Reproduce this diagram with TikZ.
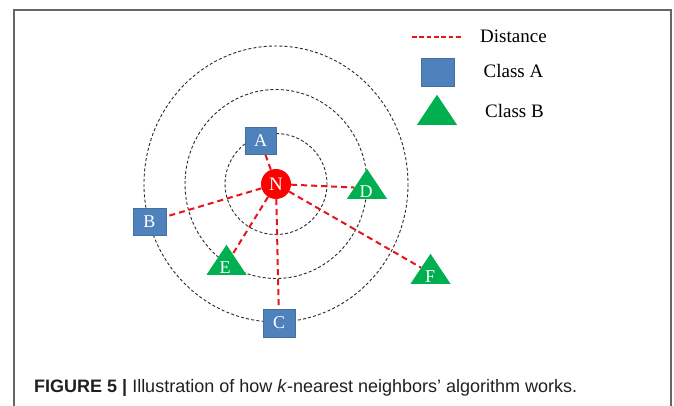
\documentclass[tikz,border=0pt]{standalone}
\usepackage{fontspec}
\setmainfont{Liberation Serif}
\newfontfamily\capfont{Liberation Sans}
\usetikzlibrary{shapes.geometric}
\definecolor{clsA}{HTML}{4F81BD}
\definecolor{clsAb}{HTML}{41719C}
\definecolor{clsB}{HTML}{00B050}
\definecolor{distred}{HTML}{E8141C}
\definecolor{ringcol}{HTML}{2A2A2A}
\definecolor{capcol}{HTML}{231F20}
\tikzset{
  ring/.style={draw=ringcol, line width=0.9pt, dash pattern=on 3pt off 2.2pt},
  dist/.style={draw=distred, line width=2pt, dash pattern=on 6pt off 4pt},
  nodeN/.style={circle, fill=red, minimum size=30pt, inner sep=0pt, text=white, font=\fontsize{19}{19}\selectfont},
  clsAbox/.style={rectangle, fill=clsA, draw=clsAb, line width=0.8pt, minimum width=31pt, minimum height=27pt, inner sep=0pt, text=white, font=\fontsize{18}{18}\selectfont},
  clsBtri/.style={isosceles triangle, shape border rotate=90, isosceles triangle stretches, fill=clsB, minimum width=40pt, minimum height=30pt, inner sep=0pt},
  trilabel/.style={inner sep=0pt, text=white, font=\fontsize{18}{18}\selectfont},
  legtext/.style={inner sep=0pt, anchor=base west, font=\fontsize{19}{19}\selectfont},
  framecol/.style={draw=black!60, line width=1.6pt}
}
\begin{document}
\begin{tikzpicture}[x=1pt, y=-1pt]
\useasboundingbox (0,0) rectangle (674,406);
\fill[white] (0,0) rectangle (674,406);
% frame
\coordinate (f1) at (14,406);
\coordinate (f2) at (14,10);
\coordinate (f3) at (671,10);
\coordinate (f4) at (671,406);
\draw[framecol] (f1) -- (f2) -- (f3) -- (f4);
% rings
\coordinate (O) at (276,184);
\draw[ring] (O) ellipse [x radius=51, y radius=50.5];
\draw[ring] (O) ellipse [x radius=91, y radius=94.5];
\draw[ring] (O) ellipse [x radius=132, y radius=138];
% nodes
\node[nodeN] (N) at (276,184) {N};
\node[clsAbox] (A) at (260.5,141) {A};
\node[clsAbox, minimum width=33pt] (B) at (149.5,221.5) {B};
\node[clsAbox, minimum width=32pt, minimum height=28pt] (C) at (279,323) {C};
\node[clsBtri, anchor=lower side] (D) at (367,199) {};
\node[clsBtri, anchor=lower side] (E) at (226.5,275) {};
\node[clsBtri, anchor=lower side] (F) at (430.5,284) {};
% connectors
\draw[dist] (N) -- (A);
\draw[dist] (N) -- (B);
\draw[dist] (N) -- (C);
\draw[dist] (N) -- (D);
\draw[dist] (N) -- (E);
\draw[dist] (N) -- (F);
% triangle labels
\node[trilabel] (Dl) at (366,191.3) {D};
\node[trilabel] (El) at (225,268) {E};
\node[trilabel] (Fl) at (430,277) {F};
% legend
\coordinate (L1) at (412,37);
\coordinate (L2) at (463,37);
\draw[dist, line width=1.4pt, dash pattern=on 4.8pt off 2.5pt] (L1) -- (L2);
\node[legtext] (tDist) at (480,43) {Distance};
\node[clsAbox, minimum width=33pt, minimum height=28pt] (legA) at (437.5,72) {};
\node[legtext] (tA) at (483.5,78) {Class A};
\node[clsBtri, anchor=lower side] (legB) at (437,125) {};
\node[legtext] (tB) at (485,118) {Class B};
% caption
\node[anchor=base west, inner sep=0pt, text=capcol, font=\capfont\fontsize{18}{20}\selectfont] (cap) at (34,392)
  {\textbf{FIGURE 5 |} Illustration of how \textit{k}-nearest neighbors’ algorithm works.};
\end{tikzpicture}
\end{document}
